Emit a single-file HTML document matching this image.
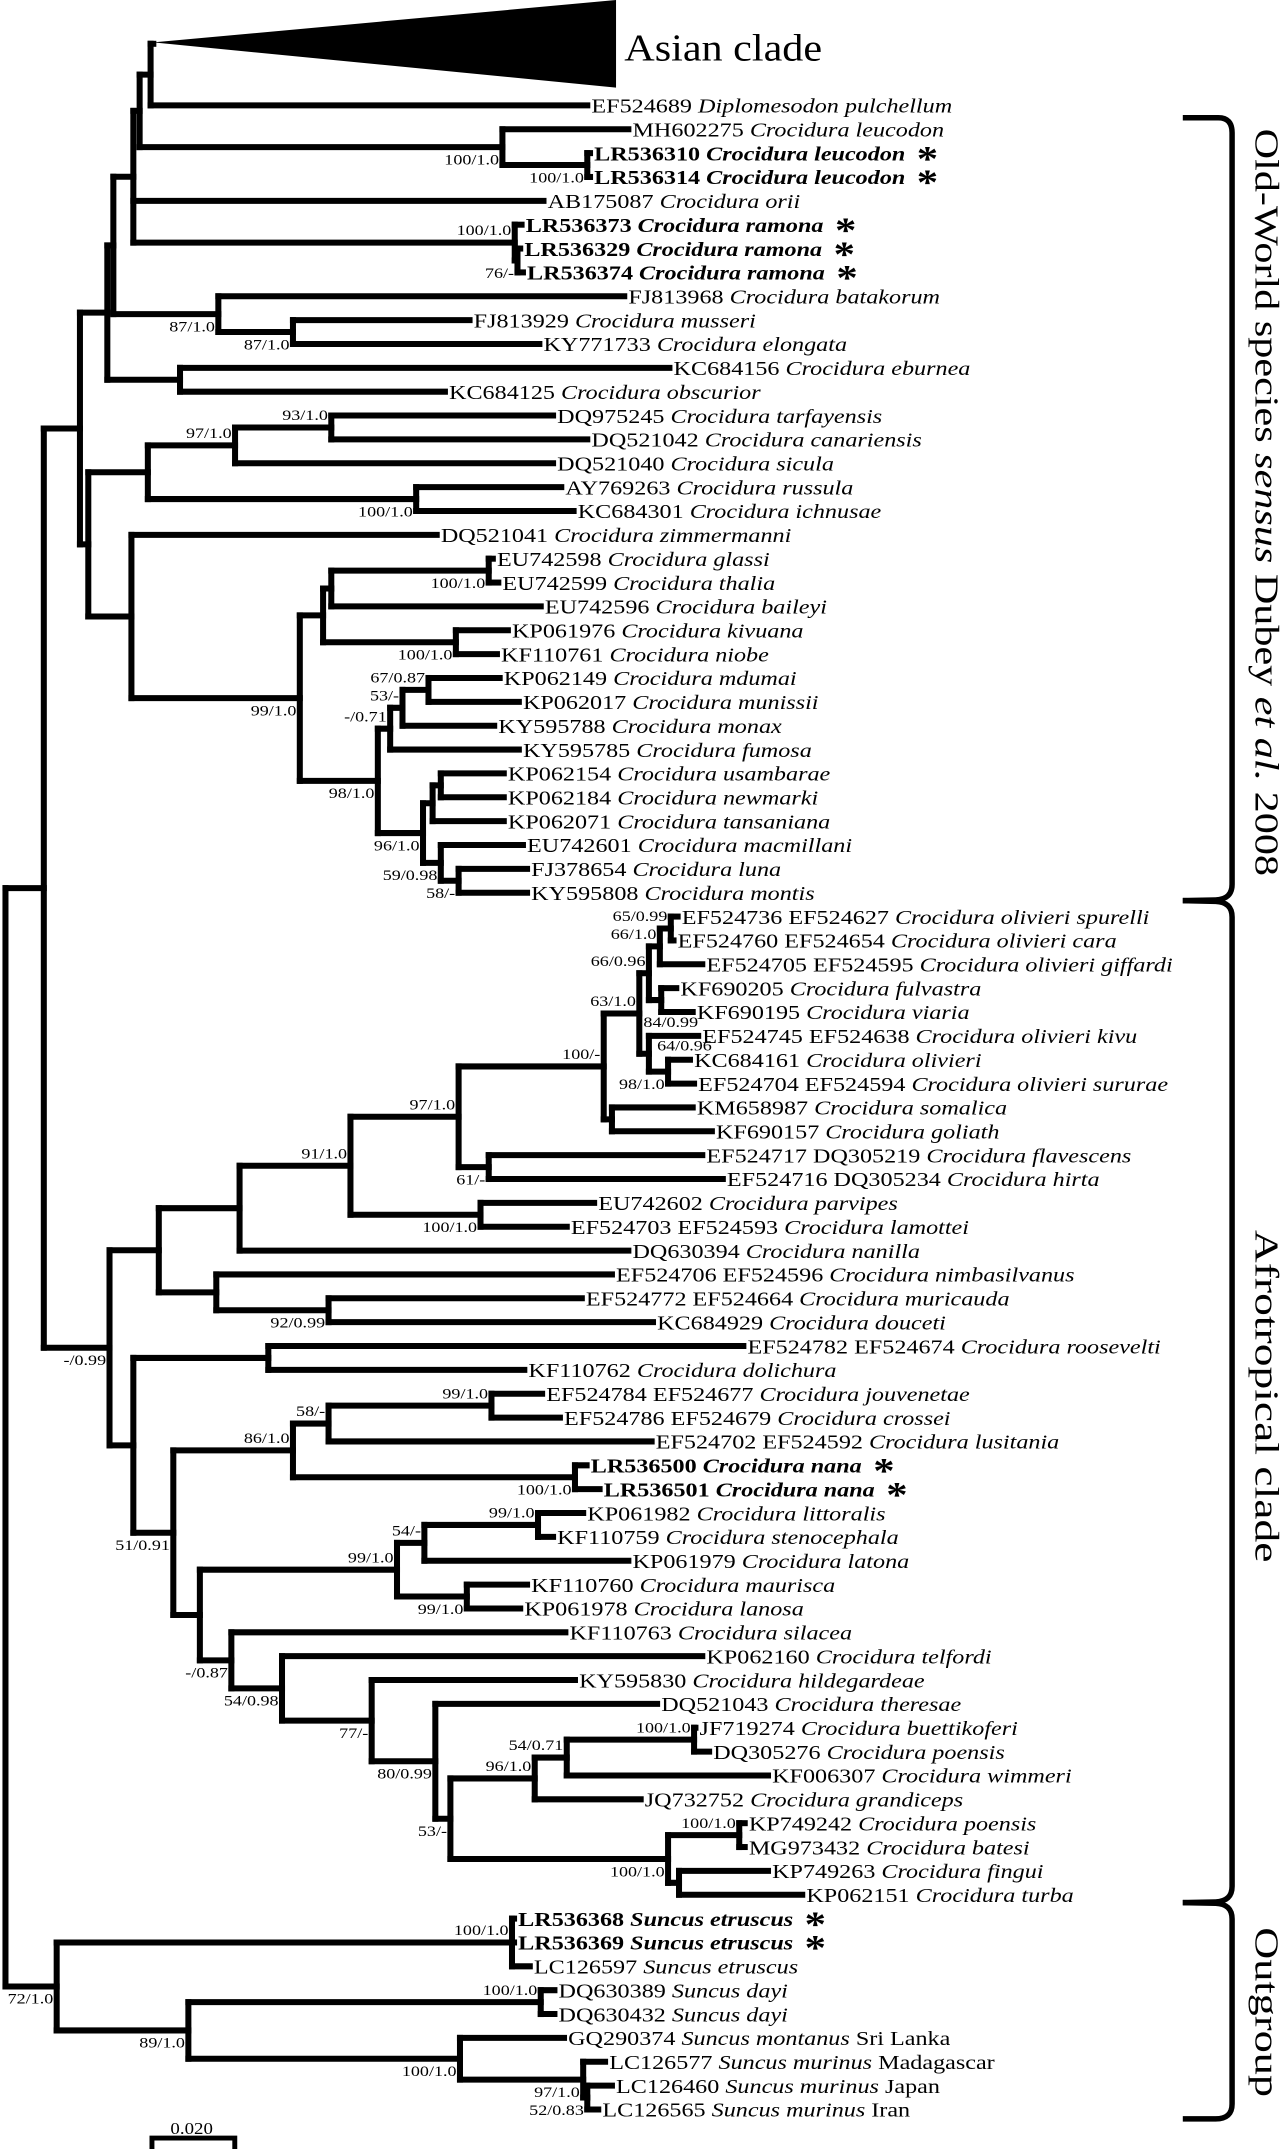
<!DOCTYPE html>
<html>
<head>
<meta charset="utf-8">
<style>
html,body{margin:0;padding:0;background:#fff;}
svg{display:block;}
text{font-family:"Liberation Serif","DejaVu Serif",serif;fill:#000;}
</style>
</head>
<body>
<svg id="tree" xmlns="http://www.w3.org/2000/svg" width="1280" height="2149" viewBox="0 0 935 1570" preserveAspectRatio="none">
  <rect x="0" y="0" width="935" height="1570" fill="#fff"/>
  <polygon points="112,31 450,0 450,64" fill="#000"/>
  <text transform="translate(456,35) scale(1.1,1)" font-size="28" dominant-baseline="central">Asian clade</text>
  <g id="branches" stroke="#000" stroke-width="4.4" stroke-linecap="square" fill="none"></g>
  <g id="tiplabels"></g>
  <g id="supports"></g>
  <path d="M864,86 L890,86 Q900,86 900,97 L900,646 Q900,657 888,657.5 L864,658" stroke="#000" stroke-width="4" fill="none"/>
  <path d="M864,658 L888,658.5 Q900,659 900,670 L900,1378 Q900,1389 888,1389.5 L864,1390" stroke="#000" stroke-width="4" fill="none"/>
  <path d="M864,1390 L888,1390.5 Q900,1391 900,1402 L900,1537 Q900,1548 888,1548 L864,1548" stroke="#000" stroke-width="4" fill="none"/>
  <text transform="translate(917,367) rotate(90)" font-size="25" text-anchor="middle" textLength="546" lengthAdjust="spacingAndGlyphs">Old-World species <tspan font-style="italic">sensus</tspan> Dubey <tspan font-style="italic">et al.</tspan> 2008</text>
  <text transform="translate(917,1020) rotate(90)" font-size="25" text-anchor="middle" textLength="243" lengthAdjust="spacingAndGlyphs">Afrotropical clade</text>
  <text transform="translate(917,1470) rotate(90)" font-size="25" text-anchor="middle" textLength="124" lengthAdjust="spacingAndGlyphs">Outgroup</text>
  <g>
    <path d="M111,1570 L111,1562 L171.5,1562 L171.5,1570" stroke="#000" stroke-width="3.6" fill="none"/>
    <text transform="translate(140,1555) scale(1.15,1)" font-size="12" text-anchor="middle" dominant-baseline="central">0.020</text>
  </g>
</svg>
<script>
// ---- leaf data (index 1..85) ----
const leafAcc = ["EF524689","MH602275","LR536310","LR536314","AB175087","LR536373","LR536329","LR536374","FJ813968","FJ813929","KY771733","KC684156","KC684125","DQ975245","DQ521042","DQ521040","AY769263","KC684301","DQ521041","EU742598","EU742599","EU742596","KP061976","KF110761","KP062149","KP062017","KY595788","KY595785","KP062154","KP062184","KP062071","EU742601","FJ378654","KY595808",
"EF524736 EF524627","EF524760 EF524654","EF524705 EF524595","KF690205","KF690195","EF524745 EF524638","KC684161","EF524704 EF524594","KM658987","KF690157","EF524717 DQ305219","EF524716 DQ305234","EU742602","EF524703 EF524593","DQ630394","EF524706 EF524596","EF524772 EF524664","KC684929","EF524782 EF524674","KF110762","EF524784 EF524677","EF524786 EF524679","EF524702 EF524592","LR536500","LR536501","KP061982","KF110759","KP061979","KF110760","KP061978","KF110763","KP062160","KY595830","DQ521043","JF719274","DQ305276","KF006307","JQ732752","KP749242","MG973432","KP749263","KP062151",
"LR536368","LR536369","LC126597","DQ630389","DQ630432","GQ290374","LC126577","LC126460","LC126565"];
const leafSpecies = ["Diplomesodon pulchellum","Crocidura leucodon","Crocidura leucodon","Crocidura leucodon","Crocidura orii","Crocidura ramona","Crocidura ramona","Crocidura ramona","Crocidura batakorum","Crocidura musseri","Crocidura elongata","Crocidura eburnea","Crocidura obscurior","Crocidura tarfayensis","Crocidura canariensis","Crocidura sicula","Crocidura russula","Crocidura ichnusae","Crocidura zimmermanni","Crocidura glassi","Crocidura thalia","Crocidura baileyi","Crocidura kivuana","Crocidura niobe","Crocidura mdumai","Crocidura munissii","Crocidura monax","Crocidura fumosa","Crocidura usambarae","Crocidura newmarki","Crocidura tansaniana","Crocidura macmillani","Crocidura luna","Crocidura montis",
"Crocidura olivieri spurelli","Crocidura olivieri cara","Crocidura olivieri giffardi","Crocidura fulvastra","Crocidura viaria","Crocidura olivieri kivu","Crocidura olivieri","Crocidura olivieri sururae","Crocidura somalica","Crocidura goliath","Crocidura flavescens","Crocidura hirta","Crocidura parvipes","Crocidura lamottei","Crocidura nanilla","Crocidura nimbasilvanus","Crocidura muricauda","Crocidura douceti","Crocidura roosevelti","Crocidura dolichura","Crocidura jouvenetae","Crocidura crossei","Crocidura lusitania","Crocidura nana","Crocidura nana","Crocidura littoralis","Crocidura stenocephala","Crocidura latona","Crocidura maurisca","Crocidura lanosa","Crocidura silacea","Crocidura telfordi","Crocidura hildegardeae","Crocidura theresae","Crocidura buettikoferi","Crocidura poensis","Crocidura wimmeri","Crocidura grandiceps","Crocidura poensis","Crocidura batesi","Crocidura fingui","Crocidura turba",
"Suncus etruscus","Suncus etruscus","Suncus etruscus","Suncus dayi","Suncus dayi","Suncus montanus","Suncus murinus","Suncus murinus","Suncus murinus"];
const leafSuffix = {82:"Sri Lanka",83:"Madagascar",84:"Japan",85:"Iran"};
const leafTip = [429,459,431,431,397,381,380,382,456,343,394,489,325,404,429,404,410,419,319,360,364,395,371,363,365,379,361,379,368,368,368,382,385,385,
495,492,513,494,506,510,504,507,506,520,513,528,434,414,459,447,425,477,543,383,396,409,476,428.5,438,426,404,459,385,380,413,513,420,480,508,518,561,468,544,544,561,586,
375.5,375.5,387,405,405,412,442,447,437];
const boldLeaves = [3,4,6,7,8,58,59,77,78];
const starLeaves = [3,4,6,7,8,58,59,77,78];

// ---- internal nodes: [id, x (branch depth), children] ; leaf 0 = collapsed Asian clade ----
const treeNodes = [
 ["root",4,["A","OUT"]],
 ["A",32,["C","AFRO"]],
 ["C",58.4,["D1","G"]],
 ["D1",78.4,["D2","EB"]],
 ["D2",82.8,["R","BAT"]],
 ["R",97.4,["Q",5,"RAM"]],
 ["Q",102,["P","LEU"]],
 ["P",110,[0,1]],
 ["LEU",367,[2,"LEU2"]],
 ["LEU2",429,[3,4]],
 ["RAM",376,[6,"RAM2"]],
 ["RAM2",378,[7,8]],
 ["BAT",159.5,[9,"MUS"]],
 ["MUS",214,[10,11]],
 ["EB",131.5,[12,13]],
 ["G",64.5,["H","I"]],
 ["H",108,["N97","RUS"]],
 ["N97",171.7,["N93",16]],
 ["N93",242,[14,15]],
 ["RUS",304,[17,18]],
 ["I",96,[19,"L"]],
 ["L",219,["K","M"]],
 ["K",236,["J","KIV"]],
 ["J",242,["GLA",22]],
 ["GLA",357,[20,21]],
 ["KIV",333,[23,24]],
 ["M",276,["N71","N96"]],
 ["N71",285,["N53",28]],
 ["N53",294,["N67",27]],
 ["N67",313,[25,26]],
 ["N96",309,["O","N59"]],
 ["O",316,["O2",31]],
 ["O2",322,[29,30]],
 ["N59",322,[32,"N58"]],
 ["N58",335,[33,34]],
 ["AFRO",80,["N116","N97b"]],
 ["N116",116,["N175","N158"]],
 ["N175",175,["N91",49]],
 ["N91",256,["N97A","PAR"]],
 ["N97A",335,["N100","N61"]],
 ["N100",441,["X","SOM"]],
 ["X",467,["N6696","K1"]],
 ["N6696",474,["N661","FUL"]],
 ["N661",482,["N65",37]],
 ["N65",490,[35,36]],
 ["FUL",483,[38,39]],
 ["K1",474,[40,"K2"]],
 ["K2",488,[41,42]],
 ["SOM",447,[43,44]],
 ["N61",357,[45,46]],
 ["PAR",351,[47,48]],
 ["N158",158,[50,"N92"]],
 ["N92",240,[51,52]],
 ["N97b",97.4,["ROO","N51"]],
 ["ROO",196,[53,54]],
 ["N51",126.6,["N86","N146"]],
 ["N86",214,["N58b","NANA"]],
 ["N58b",240,["N99j",57]],
 ["N99j",359,[55,56]],
 ["NANA",420,[58,59]],
 ["N146",146,["N99a","N087"]],
 ["N99a",290,["N54","N99m"]],
 ["N54",310,["N99l",62]],
 ["N99l",393,[60,61]],
 ["N99m",341,[63,64]],
 ["N087",169,[65,"N5498"]],
 ["N5498",206,[66,"N77"]],
 ["N77",271.5,[67,"N80"]],
 ["N80",318,[68,"N53b"]],
 ["N53b",329,["N96b","N100f"]],
 ["N96b",390.6,["N5471",72]],
 ["N5471",414,["N100b",71]],
 ["N100b",507,[69,70]],
 ["N100f",488,["N100p","FIN"]],
 ["N100p",540,[73,74]],
 ["FIN",496,[75,76]],
 ["OUT",41.4,["E1","N89"]],
 ["E1",374,[77,78,79]],
 ["N89",137.6,["DAY","N100s"]],
 ["DAY",395,[80,81]],
 ["N100s",336,[82,"M1"]],
 ["M1",426,[83,"M2"]],
 ["M2",429,[84,85]]
];

// ---- support values: [node, text, position] ----
const supportLabels = [
 ["LEU","100/1.0","b"],["LEU2","100/1.0","b"],["RAM","100/1.0","a"],["RAM2","76/-","b"],
 ["BAT","87/1.0","b"],["MUS","87/1.0","b"],["N97","97/1.0","a"],["N93","93/1.0","a"],["RUS","100/1.0","b"],
 ["L","99/1.0","b"],["GLA","100/1.0","b"],["KIV","100/1.0","b"],["M","98/1.0","b"],["N71","-/0.71","a"],
 ["N53","53/-","a"],["N67","67/0.87","a"],["N96","96/1.0","b"],["N59","59/0.98","b"],["N58","58/-","b"],
 ["AFRO","-/0.99","b"],["N91","91/1.0","a"],["N97A","97/1.0","a"],["N100","100/-","a"],["X","63/1.0","a"],
 ["N6696","66/0.96","a"],["N661","66/1.0","a"],["N65","65/0.99","a"],["K1","84/0.99","s1"],["K2","64/0.96","s2"],
 ["K2","98/1.0","b"],["N61","61/-","b"],["PAR","100/1.0","b"],["N92","92/0.99","b"],
 ["N51","51/0.91","b"],["N86","86/1.0","a"],["N58b","58/-","a"],["N99j","99/1.0","a"],["NANA","100/1.0","b"],
 ["N99a","99/1.0","a"],["N54","54/-","a"],["N99l","99/1.0","a"],["N99m","99/1.0","b"],["N087","-/0.87","b"],
 ["N5498","54/0.98","b"],["N77","77/-","b"],["N80","80/0.99","b"],["N53b","53/-","b"],["N96b","96/1.0","a"],
 ["N5471","54/0.71","a"],["N100b","100/1.0","a"],["N100f","100/1.0","b"],["N100p","100/1.0","a"],
 ["OUT","72/1.0","b"],["E1","100/1.0","a"],["N89","89/1.0","b"],["DAY","100/1.0","a"],["N100s","100/1.0","b"],
 ["M1","97/1.0","b"],["M2","52/0.83","b"]
];

const NS = "http://www.w3.org/2000/svg";
const ROW0 = 77, ROWH = 17.43, ASIAN_Y = 32, ASIAN_X = 112;
const nodeMap = {};
treeNodes.forEach(n => { nodeMap[n[0]] = {x:n[1], kids:n[2]}; });
const yMemo = {};
function yOf(k){
  if (typeof k === "number") return k === 0 ? ASIAN_Y : ROW0 + (k-1)*ROWH;
  if (yMemo[k] !== undefined) return yMemo[k];
  const kids = nodeMap[k].kids;
  const v = (yOf(kids[0]) + yOf(kids[kids.length-1])) / 2;
  yMemo[k] = v; return v;
}
function xOf(k){
  if (typeof k === "number") return k === 0 ? ASIAN_X : leafTip[k-1];
  return nodeMap[k].x;
}
const gB = document.getElementById("branches");
function seg(x1,y1,x2,y2,name){
  const l = document.createElementNS(NS,"line");
  l.setAttribute("x1",x1); l.setAttribute("y1",y1); l.setAttribute("x2",x2); l.setAttribute("y2",y2);
  
  
  gB.appendChild(l);
}
treeNodes.forEach(n => {
  const id = n[0], x = n[1], kids = n[2];
  seg(x, yOf(kids[0]), x, yOf(kids[kids.length-1]), "node-" + id + "-vertical");
  kids.forEach(k => {
    seg(x, yOf(k), xOf(k), yOf(k), typeof k === "number" ? "branch-leaf-" + k : "branch-" + k);
  });
});

// tip labels
const gT = document.getElementById("tiplabels");
for (let i = 1; i <= leafAcc.length; i++) {
  const t = document.createElementNS(NS,"text");
  
  
  t.setAttribute("transform","translate(" + (leafTip[i-1]+3) + "," + yOf(i) + ") scale(1.2,1)");
  t.setAttribute("font-size","14.7");
  t.setAttribute("dominant-baseline","central");
  if (boldLeaves.indexOf(i) >= 0) t.setAttribute("font-weight","bold");
  const a = document.createElementNS(NS,"tspan"); a.textContent = leafAcc[i-1] + " ";
  t.appendChild(a);
  const s = document.createElementNS(NS,"tspan"); s.setAttribute("font-style","italic"); s.textContent = leafSpecies[i-1];
  t.appendChild(s);
  if (leafSuffix[i]) { const f = document.createElementNS(NS,"tspan"); f.textContent = " " + leafSuffix[i]; t.appendChild(f); }
  if (starLeaves.indexOf(i) >= 0) {
    const st = document.createElementNS(NS,"tspan");
    st.setAttribute("dx","7"); st.setAttribute("dy","4"); st.setAttribute("font-size","26"); st.setAttribute("font-weight","bold");
    st.textContent = "*"; t.appendChild(st);
  }
  gT.appendChild(t);
}

// support labels
const gS = document.getElementById("supports");
supportLabels.forEach(s => {
  const id = s[0], nx = nodeMap[id].x, ny = yOf(id);
  let x = nx - 2.5, y = ny, anchor = "end";
  if (s[2] === "a") y = ny - 9;
  else if (s[2] === "b") y = ny + 9;
  else if (s[2] === "s1") { x = nx - 4; y = ny - 23; anchor = "start"; }
  else if (s[2] === "s2") { x = nx - 8; y = ny - 19; anchor = "start"; }
  const t = document.createElementNS(NS,"text");
  
  
  t.setAttribute("transform","translate(" + x + "," + y + ") scale(1.2,1)");
  t.setAttribute("font-size","11");
  t.setAttribute("text-anchor",anchor);
  t.setAttribute("dominant-baseline","central");
  t.textContent = s[1];
  gS.appendChild(t);
});
</script>
</body>
</html>
